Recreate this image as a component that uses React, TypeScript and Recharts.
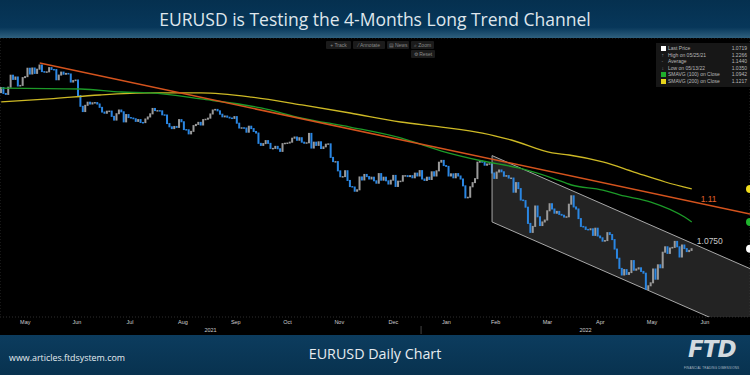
import React from 'react';
import {
  ComposedChart,
  Bar,
  Line,
  Area,
  XAxis,
  YAxis,
  CartesianGrid,
  ReferenceLine,
  ReferenceDot,
} from 'recharts';

// x axis = trading day index, 0 = first session of May 2021
const MONTHS = ['May', 'Jun', 'Jul', 'Aug', 'Sep', 'Oct', 'Nov', 'Dec', 'Jan', 'Feb', 'Mar', 'Apr', 'May', 'Jun'];
const MONTH_STARTS = [0, 21, 43, 65, 87, 109, 130, 152, 175, 196, 216, 239, 260, 282, 304];
const YEARS = ['2021', '2022'];
const YEAR_STARTS = [0, 175];
const X_MIN = -0.5;
const X_MAX = 311.2;
const Y_MIN = 1.015;
const Y_MAX = 1.2475;
const PRICE_TICKS = [1.05, 1.1, 1.15, 1.2];

const PREV_CLOSE = 1.202;
const CLOSES = [
  // May 2021
  1.2062, 1.2013, 1.2005, 1.2065, 1.2165, 1.213, 1.215, 1.2075, 1.208, 1.2145, 1.2153,
  1.2223, 1.2175, 1.2225, 1.218, 1.2215, 1.225, 1.2195, 1.219, 1.2193, 1.2228,
  // Jun
  1.2213, 1.2212, 1.2127, 1.2166, 1.2191, 1.2173, 1.218, 1.2175, 1.2108, 1.212, 1.2125,
  1.1995, 1.1906, 1.1862, 1.1914, 1.194, 1.1925, 1.1935, 1.1937, 1.1925, 1.1897, 1.1858,
  // Jul
  1.1848, 1.1865, 1.1866, 1.1822, 1.1791, 1.1844, 1.1875, 1.186, 1.1776, 1.1837, 1.1812,
  1.1808, 1.1802, 1.178, 1.1795, 1.1771, 1.177, 1.18, 1.1817, 1.1843, 1.1888, 1.187,
  // Aug
  1.187, 1.1868, 1.1835, 1.1833, 1.1762, 1.1735, 1.172, 1.1738, 1.173, 1.1795, 1.1777,
  1.1712, 1.171, 1.1676, 1.1697, 1.1745, 1.1755, 1.1772, 1.175, 1.1795, 1.1798, 1.1807,
  // Sep
  1.1842, 1.1875, 1.188, 1.1868, 1.184, 1.1818, 1.1825, 1.1815, 1.1808, 1.1805, 1.182,
  1.1765, 1.1725, 1.1727, 1.1725, 1.169, 1.174, 1.172, 1.1696, 1.1683, 1.1597, 1.158,
  // Oct
  1.1595, 1.162, 1.1597, 1.1555, 1.1555, 1.1572, 1.1552, 1.153, 1.1595, 1.1598, 1.16,
  1.1607, 1.164, 1.165, 1.1623, 1.1644, 1.1607, 1.1598, 1.1602, 1.168, 1.1558,
  // Nov
  1.1607, 1.158, 1.161, 1.1554, 1.1568, 1.159, 1.1593, 1.148, 1.1445, 1.1445, 1.1368,
  1.1319, 1.132, 1.1369, 1.1288, 1.1237, 1.1233, 1.1198, 1.121, 1.1317, 1.1292, 1.1338,
  // Dec
  1.132, 1.13, 1.1315, 1.1285, 1.1265, 1.1345, 1.129, 1.1315, 1.1285, 1.1258, 1.129,
  1.133, 1.1238, 1.1282, 1.1282, 1.1328, 1.1328, 1.132, 1.1328, 1.131, 1.1349, 1.1325, 1.137,
  // Jan 2022
  1.13, 1.1288, 1.1315, 1.1296, 1.136, 1.1325, 1.1368, 1.144, 1.1455, 1.1412, 1.1405,
  1.1325, 1.1343, 1.131, 1.1345, 1.1325, 1.13, 1.1243, 1.1143, 1.1148, 1.1235,
  // Feb
  1.127, 1.1303, 1.144, 1.145, 1.144, 1.1415, 1.1425, 1.1427, 1.135, 1.1305,
  1.1358, 1.1375, 1.136, 1.1323, 1.1328, 1.1308, 1.1308, 1.119, 1.127, 1.122,
  // Mar
  1.1125, 1.112, 1.1065, 1.093, 1.0855, 1.0905, 1.1075, 1.0985, 1.0912, 1.0942, 1.0958,
  1.1035, 1.1094, 1.105, 1.1015, 1.103, 1.1005, 1.0998, 1.0983, 1.0985, 1.109, 1.116, 1.1067,
  // Apr
  1.105, 1.097, 1.0905, 1.09, 1.088, 1.0877, 1.0885, 1.083, 1.089, 1.0825, 1.081,
  1.0782, 1.0787, 1.0853, 1.0837, 1.0795, 1.0716, 1.064, 1.0555, 1.05, 1.0545,
  // May
  1.0505, 1.052, 1.062, 1.054, 1.055, 1.056, 1.053, 1.0515, 1.038, 1.041, 1.0435,
  1.055, 1.0465, 1.0585, 1.056, 1.069, 1.0735, 1.068, 1.0725, 1.073, 1.078, 1.0735,
  // Jun
  1.065, 1.075, 1.072, 1.0695, 1.0705, 1.0719,
];

// moving averages
const SMA100_X = [0, 33, 50, 62, 83, 108, 125, 145, 166, 183, 200, 215, 229, 237, 250, 257, 270, 284, 287];
const SMA100 = [1.2058, 1.205, 1.2025, 1.2017, 1.1967, 1.1892, 1.1808, 1.1733, 1.1642, 1.1533, 1.145,
  1.1392, 1.1308, 1.125, 1.1208, 1.1167, 1.1108, 1.0983, 1.0942];
const SMA200_X = [0, 20, 41, 62, 83, 104, 125, 145, 166, 183, 200, 212, 229, 236, 250, 263, 276, 287];
const SMA200 = [1.1942, 1.1967, 1.2, 1.2017, 1.2017, 1.1983, 1.1917, 1.185, 1.1775, 1.1733, 1.1683,
  1.1625, 1.1517, 1.15, 1.1442, 1.1358, 1.1275, 1.1217];

const TREND_X = [16, 311.2];
const TREND_Y = [1.2266, 1.1008];
const CHANNEL_X = [204, 311.2];
const CHANNEL_UPPER = [1.1495, 1.0553];
const CHANNEL_LOWER = [1.0942, 1.0];

const LEGEND_LABELS = ['Last Price', 'High on 05/25/21', 'Average', 'Low on 05/13/22', 'SMAVG (100)  on Close', 'SMAVG (200)  on Close'];
const LEGEND_VALUES = ['1.0719', '1.2266', '1.1440', '1.0350', '1.0942', '1.1217'];
const LEGEND_MARKS = ['#ffffff', '', '', '', '#1fae2c', '#e6d41c'];
const LEGEND_GLYPHS = ['', '↑', '-', '↓', '', ''];

const UP = '#9a9a9a';
const DOWN = '#2a86e2';
const GREEN = '#1c9a28';
const YELLOW = '#cdb925';
const ORANGE = '#d4531d';

const candles = CLOSES.map((c, i) => {
  const o = i === 0 ? PREV_CLOSE : CLOSES[i - 1];
  return { d: i, body: [Math.min(o, c), Math.max(o, c)], up: c >= o };
});
const sma100Data = SMA100_X.map((d, i) => ({ d, v: SMA100[i] }));
const sma200Data = SMA200_X.map((d, i) => ({ d, v: SMA200[i] }));
const channelData = CHANNEL_X.map((d, i) => ({ d, band: [CHANNEL_LOWER[i], CHANNEL_UPPER[i]] }));

const monthBounds = MONTH_STARTS.slice(1).map((s) => s - 0.5);
const monthMids = MONTHS.map((_, i) => (MONTH_STARTS[i] + MONTH_STARTS[i + 1]) / 2 - 0.5);
const yearEnds = [...YEAR_STARTS.slice(1), X_MAX + 0.5];
const yearMids = YEARS.map((_, i) => (YEAR_STARTS[i] + yearEnds[i]) / 2 - 0.5);
const yearSep = YEAR_STARTS[1] - 0.5;

const Candle = (props: any) => {
  const { x, y, width, height, payload } = props;
  const cx = x + width / 2;
  return <rect x={cx - 1} y={y - 0.5} width={2} height={Math.max(height + 1, 1.5)} fill={payload.up ? UP : DOWN} />;
};

const DateTick = (props: any) => {
  const { x, y, payload } = props;
  const v = payload.value;
  const mi = monthMids.indexOf(v);
  if (mi >= 0) {
    return (
      <text x={x} y={y + 7} textAnchor="middle" fontSize={5.5} fill="#cfcfcf">
        {MONTHS[mi]}
      </text>
    );
  }
  const yi = yearMids.indexOf(v);
  if (yi >= 0) {
    return (
      <text x={x} y={y + 14.5} textAnchor="middle" fontSize={5.5} fill="#cfcfcf">
        {YEARS[yi]}
      </text>
    );
  }
  return <line x1={x} x2={x} y1={y + 9} y2={y + 17} stroke="#555" strokeWidth={0.8} />;
};

const btn: React.CSSProperties = {
  position: 'absolute',
  height: 8,
  background: '#1b1b1b',
  color: '#8a8a8a',
  fontSize: 5,
  lineHeight: '8px',
  textAlign: 'center',
  borderRadius: 1,
};

const App = () => {
  return (
    <div
      style={{
        position: 'relative',
        width: 750,
        height: 375,
        background: '#000',
        overflow: 'hidden',
        fontFamily: '"Liberation Sans", Arial, sans-serif',
      }}
    >
      <style>{'body{margin:0}'}</style>
      <div
        style={{
          position: 'absolute',
          left: 0,
          top: 0,
          width: 750,
          height: 38,
          background: 'linear-gradient(to bottom, #05304f 0%, #07375a 72%, #2f607e 100%)',
          color: '#dfe6ec',
          fontFamily: '"Open Sans", sans-serif',
          fontSize: 17.5,
          lineHeight: '38px',
          textAlign: 'center',
        }}
      >
        EURUSD is Testing the 4-Months Long Trend Channel
      </div>

      <div style={{ position: 'absolute', left: 0, top: 38 }}>
        <ComposedChart width={750} height={297} data={candles} margin={{ top: 0, right: 0, bottom: 0, left: 0 }}>
          <CartesianGrid xAxisId="grid" yAxisId="p" stroke="#3a3a3a" strokeDasharray="1 2" strokeWidth={0.8} />
          <XAxis
            xAxisId="grid"
            dataKey="d"
            type="number"
            domain={[X_MIN, X_MAX]}
            allowDataOverflow
            ticks={monthBounds}
            interval={0}
            tick={false}
            tickSize={3}
            tickLine={{ stroke: '#aaa' }}
            axisLine={{ stroke: '#bdbdbd' }}
            height={0}
          />
          <XAxis
            xAxisId="labels"
            dataKey="d"
            type="number"
            domain={[X_MIN, X_MAX]}
            allowDataOverflow
            ticks={[...monthMids, ...yearMids, yearSep]}
            interval={0}
            tick={<DateTick />}
            tickSize={0}
            tickMargin={0}
            tickLine={false}
            axisLine={false}
            height={18}
          />
          <YAxis
            yAxisId="p"
            orientation="right"
            type="number"
            domain={[Y_MIN, Y_MAX]}
            allowDataOverflow
            ticks={PRICE_TICKS}
            mirror
            tick={false}
            tickSize={3}
            tickLine={{ stroke: '#dddddd' }}
            axisLine={false}
            width={2}
          />

          <Area
            xAxisId="grid"
            yAxisId="p"
            data={channelData}
            dataKey="band"
            type="linear"
            fill="#3a3a3a"
            fillOpacity={0.6}
            stroke="#a8a8a8"
            strokeWidth={1}
            isAnimationActive={false}
          />
          <ReferenceLine
            xAxisId="grid"
            yAxisId="p"
            segment={[
              { x: CHANNEL_X[0], y: CHANNEL_LOWER[0] },
              { x: CHANNEL_X[0], y: CHANNEL_UPPER[0] },
            ]}
            stroke="#a8a8a8"
            strokeWidth={1}
          />

          <Line xAxisId="grid" yAxisId="p" data={sma200Data} dataKey="v" type="monotone" stroke={YELLOW} strokeWidth={1.3} dot={false} isAnimationActive={false} />
          <Line xAxisId="grid" yAxisId="p" data={sma100Data} dataKey="v" type="monotone" stroke={GREEN} strokeWidth={1.3} dot={false} isAnimationActive={false} />
          <ReferenceLine
            xAxisId="grid"
            yAxisId="p"
            segment={[
              { x: TREND_X[0], y: TREND_Y[0] },
              { x: TREND_X[1], y: TREND_Y[1] },
            ]}
            stroke={ORANGE}
            strokeWidth={1.5}
          />

          <Bar xAxisId="grid" yAxisId="p" dataKey="body" barSize={2} shape={<Candle />} isAnimationActive={false} />

          <ReferenceDot xAxisId="grid" yAxisId="p" x={294} y={1.1133} r={0} fill="none" stroke="none"
            label={{ value: '1.11', position: 'center', fill: '#e0622b', fontSize: 8.5 }} />
          <ReferenceDot xAxisId="grid" yAxisId="p" x={294.5} y={1.0785} r={0} fill="none" stroke="none"
            label={{ value: '1.0750', position: 'center', fill: '#c8c8c8', fontSize: 8.5 }} />

          <ReferenceDot xAxisId="grid" yAxisId="p" x={X_MAX} y={SMA200[SMA200.length - 1]} r={4} fill="#f0dc1c" stroke="none" ifOverflow="visible" />
          <ReferenceDot xAxisId="grid" yAxisId="p" x={X_MAX} y={SMA100[SMA100.length - 1]} r={4} fill="#20b52e" stroke="none" ifOverflow="visible" />
          <ReferenceDot xAxisId="grid" yAxisId="p" x={X_MAX} y={CLOSES[CLOSES.length - 1]} r={4} fill="#ffffff" stroke="none" ifOverflow="visible" />
        </ComposedChart>
      </div>

      {/* chart toolbar */}
      <div style={{ ...btn, left: 326, top: 41, width: 25 }}>+ Track</div>
      <div style={{ ...btn, left: 353, top: 41, width: 32 }}>⁄ Annotate</div>
      <div style={{ ...btn, left: 387, top: 41, width: 22 }}>▤ News</div>
      <div style={{ ...btn, left: 411, top: 41, width: 23 }}>⌕ Zoom</div>
      <div style={{ ...btn, left: 411, top: 50, width: 24 }}>⚙ Reset</div>

      {/* legend */}
      <div
        style={{
          position: 'absolute',
          left: 656,
          top: 43,
          width: 94,
          height: 44,
          background: '#171717',
          fontSize: 5,
          color: '#b8b8b8',
        }}
      >
        {LEGEND_LABELS.map((l, i) => (
          <div key={l} style={{ position: 'absolute', left: 0, top: 2 + i * 6.6, width: 94, height: 6.6, lineHeight: '6.6px' }}>
            {LEGEND_MARKS[i] ? (
              <span style={{ position: 'absolute', left: 5, top: 1, width: 4.5, height: 4.5, background: LEGEND_MARKS[i] }} />
            ) : (
              <span style={{ position: 'absolute', left: 5.5, top: 0, color: '#888' }}>{LEGEND_GLYPHS[i]}</span>
            )}
            <span style={{ position: 'absolute', left: 12 }}>{l}</span>
            <span style={{ position: 'absolute', right: 3 }}>{LEGEND_VALUES[i]}</span>
          </div>
        ))}
      </div>

      <div
        style={{
          position: 'absolute',
          left: 0,
          top: 335,
          width: 750,
          height: 40,
          background: 'linear-gradient(to bottom, #0c3c5e 0%, #08324f 100%)',
          color: '#e6ecf0',
        }}
      >
        <div style={{ position: 'absolute', left: 9, top: 16, fontSize: 8.9, fontFamily: '"Open Sans", sans-serif' }}>
          www.articles.ftdsystem.com
        </div>
        <div
          style={{
            position: 'absolute',
            left: 0,
            width: 750,
            top: 9,
            textAlign: 'center',
            fontSize: 14.3,
            fontFamily: '"Open Sans", sans-serif',
          }}
        >
          EURUSD Daily Chart
        </div>
        <div
          style={{
            position: 'absolute',
            left: 688,
            top: 1,
            fontSize: 23,
            fontWeight: 900,
            fontStyle: 'italic',
            color: '#d3dadf',
            fontFamily: '"DejaVu Sans", sans-serif',
            letterSpacing: -1,
          }}
        >
          FTD
        </div>
        <div style={{ position: 'absolute', left: 684, top: 31, fontSize: 3, color: '#b0bcc6', letterSpacing: 0.2 }}>
          FINANCIAL TRADING DIMENSIONS
        </div>
      </div>
    </div>
  );
};

export default App;
